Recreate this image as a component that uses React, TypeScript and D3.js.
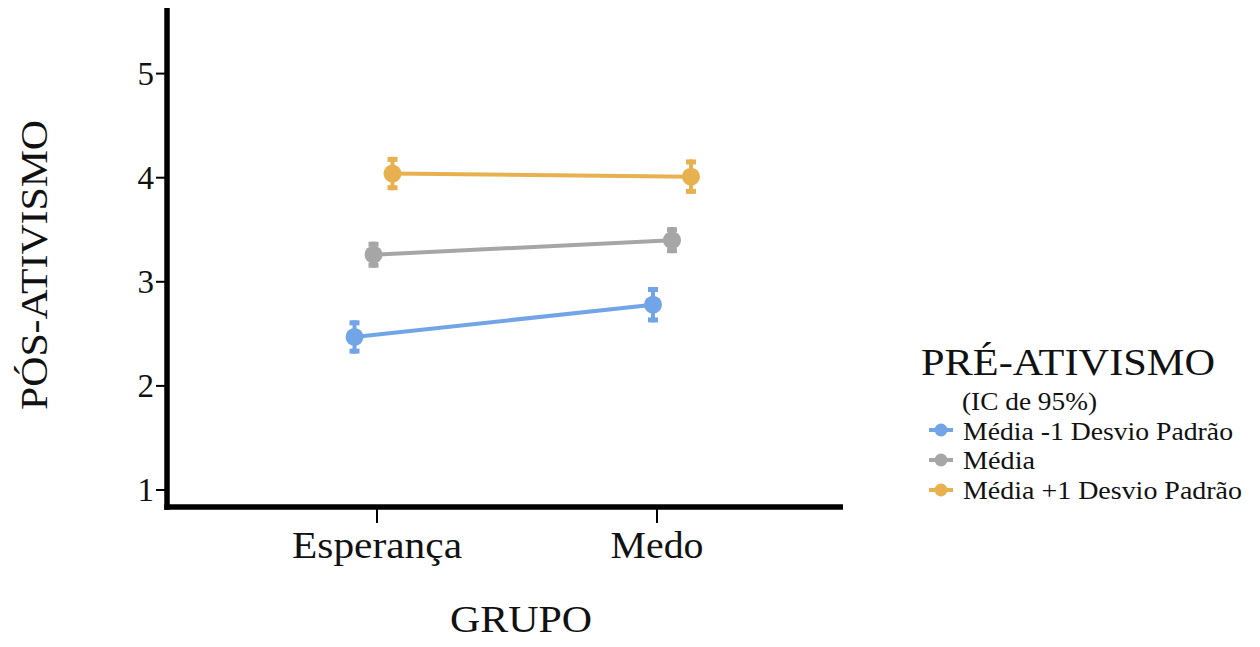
import React from "react";
import * as d3 from "d3";

const groups = ["Esperança", "Medo"];
const seriesNames = ["Média -1 Desvio Padrão", "Média", "Média +1 Desvio Padrão"];
const seriesColors = ["#72a5e8", "#a6a6a6", "#e8b14f"];
// mean values per series, per group
const meanLow = [2.47, 2.78];
const meanMid = [3.26, 3.40];
const meanHigh = [4.04, 4.01];
// 95% CI half widths
const ciLow = [0.16, 0.17];
const ciMid = [0.125, 0.125];
const ciHigh = [0.16, 0.165];
const yTicks = [1, 2, 3, 4, 5];
const yTitle = "PÓS-ATIVISMO";
const xTitle = "GRUPO";
const legendTitle = "PRÉ-ATIVISMO";
const legendSubtitle = "(IC de 95%)";

const W = 1260;
const H = 647;
const FONT = "Liberation Serif";

function T(props: any) {
  const { children, style, ...rest } = props;
  return (
    <text
      fill="#111"
      {...rest}
      style={{ fontFamily: FONT, ...(style || {}) }}
    >
      {children}
    </text>
  );
}

export default function App() {
  const axisLeft = 167;
  const axisRight = 843;
  const axisTop = 8;
  const axisBottom = 507;

  const y = d3.scaleLinear().domain([1, 5]).range([490, 73.6]);
  const x = d3.scalePoint<string>().domain(groups).range([377, 657]);
  const xMark = d3.scalePoint<string>().domain(groups).range([373.5, 672]);
  const dodge = d3.scalePoint<string>().domain(seriesNames).range([-19, 19]);

  const means = [meanLow, meanMid, meanHigh];
  const cis = [ciLow, ciMid, ciHigh];

  const series = seriesNames.map((name, i) => ({
    name,
    color: seriesColors[i],
    pts: groups.map((g, j) => ({
      g,
      cx: (xMark(g) as number) + (dodge(name) as number),
      m: means[i][j],
      ci: cis[i][j],
    })),
  }));

  const line = d3
    .line<{ cx: number; m: number }>()
    .x((d) => d.cx)
    .y((d) => y(d.m));

  const legendX = 941;
  const legendRowY = [430, 460, 490];
  const legendBase = [440, 469, 498.5];
  const legendLen = [270, 72, 279];
  const xLabelLen = [170, 93];

  return (
    <svg
      width={W}
      height={H}
      style={{ position: "absolute", left: 0, top: 0, background: "#fff" }}
    >
      <rect x={0} y={0} width={W} height={H} fill="#fff" />
      {/* series */}
      {series.map((s) => (
        <g key={s.name}>
          <path d={line(s.pts) || ""} fill="none" stroke={s.color} strokeWidth={4} />
          {s.pts.map((p) => (
            <g key={p.g}>
              <line
                x1={p.cx}
                x2={p.cx}
                y1={y(p.m - p.ci)}
                y2={y(p.m + p.ci)}
                stroke={s.color}
                strokeWidth={4}
              />
              <line
                x1={p.cx - 5}
                x2={p.cx + 5}
                y1={y(p.m + p.ci) + 2.5}
                y2={y(p.m + p.ci) + 2.5}
                stroke={s.color}
                strokeWidth={5}
              />
              <line
                x1={p.cx - 5}
                x2={p.cx + 5}
                y1={y(p.m - p.ci) - 2.5}
                y2={y(p.m - p.ci) - 2.5}
                stroke={s.color}
                strokeWidth={5}
              />
              <circle cx={p.cx} cy={y(p.m)} r={9} fill={s.color} />
            </g>
          ))}
        </g>
      ))}

      {/* axes */}
      <line x1={axisLeft} x2={axisLeft} y1={axisTop} y2={axisBottom + 2.75} stroke="#000" strokeWidth={5.5} />
      <line x1={axisLeft - 2.75} x2={axisRight} y1={axisBottom} y2={axisBottom} stroke="#000" strokeWidth={5.5} />
      {yTicks.map((t) => (
        <g key={t}>
          <line x1={axisLeft - 11} x2={axisLeft} y1={y(t)} y2={y(t)} stroke="#000" strokeWidth={2} />
          <T x={axisLeft - 13} y={y(t) + 11} textAnchor="end" fontSize={33}>
            {t}
          </T>
        </g>
      ))}
      {groups.map((g, i) => (
        <g key={g}>
          <line x1={x(g)} x2={x(g)} y1={axisBottom} y2={axisBottom + 16} stroke="#000" strokeWidth={2} />
          <T
            x={x(g)}
            y={558}
            textAnchor="middle"
            fontSize={38}
            textLength={xLabelLen[i]}
            lengthAdjust="spacingAndGlyphs"
          >
            {g}
          </T>
        </g>
      ))}

      {/* axis titles */}
      <T x={521} y={632} textAnchor="middle" fontSize={38} textLength={142} lengthAdjust="spacingAndGlyphs">
        {xTitle}
      </T>
      <T
        transform={`translate(47, 265) rotate(-90)`}
        textAnchor="middle"
        fontSize={38}
        textLength={290}
        lengthAdjust="spacingAndGlyphs"
      >
        {yTitle}
      </T>

      {/* legend */}
      <T x={921} y={375} fontSize={38} textLength={294} lengthAdjust="spacingAndGlyphs">
        {legendTitle}
      </T>
      <T x={962} y={410} fontSize={25} textLength={135} lengthAdjust="spacingAndGlyphs">
        {legendSubtitle}
      </T>
      {series.map((s, i) => (
        <g key={s.name}>
          <line x1={legendX - 12} x2={legendX + 12} y1={legendRowY[i]} y2={legendRowY[i]} stroke={s.color} strokeWidth={4} />
          <circle cx={legendX} cy={legendRowY[i]} r={6.5} fill={s.color} />
          <T
            x={963}
            y={legendBase[i]}
            fontSize={25}
            textLength={legendLen[i]}
            lengthAdjust="spacingAndGlyphs"
          >
            {s.name}
          </T>
        </g>
      ))}
    </svg>
  );
}
